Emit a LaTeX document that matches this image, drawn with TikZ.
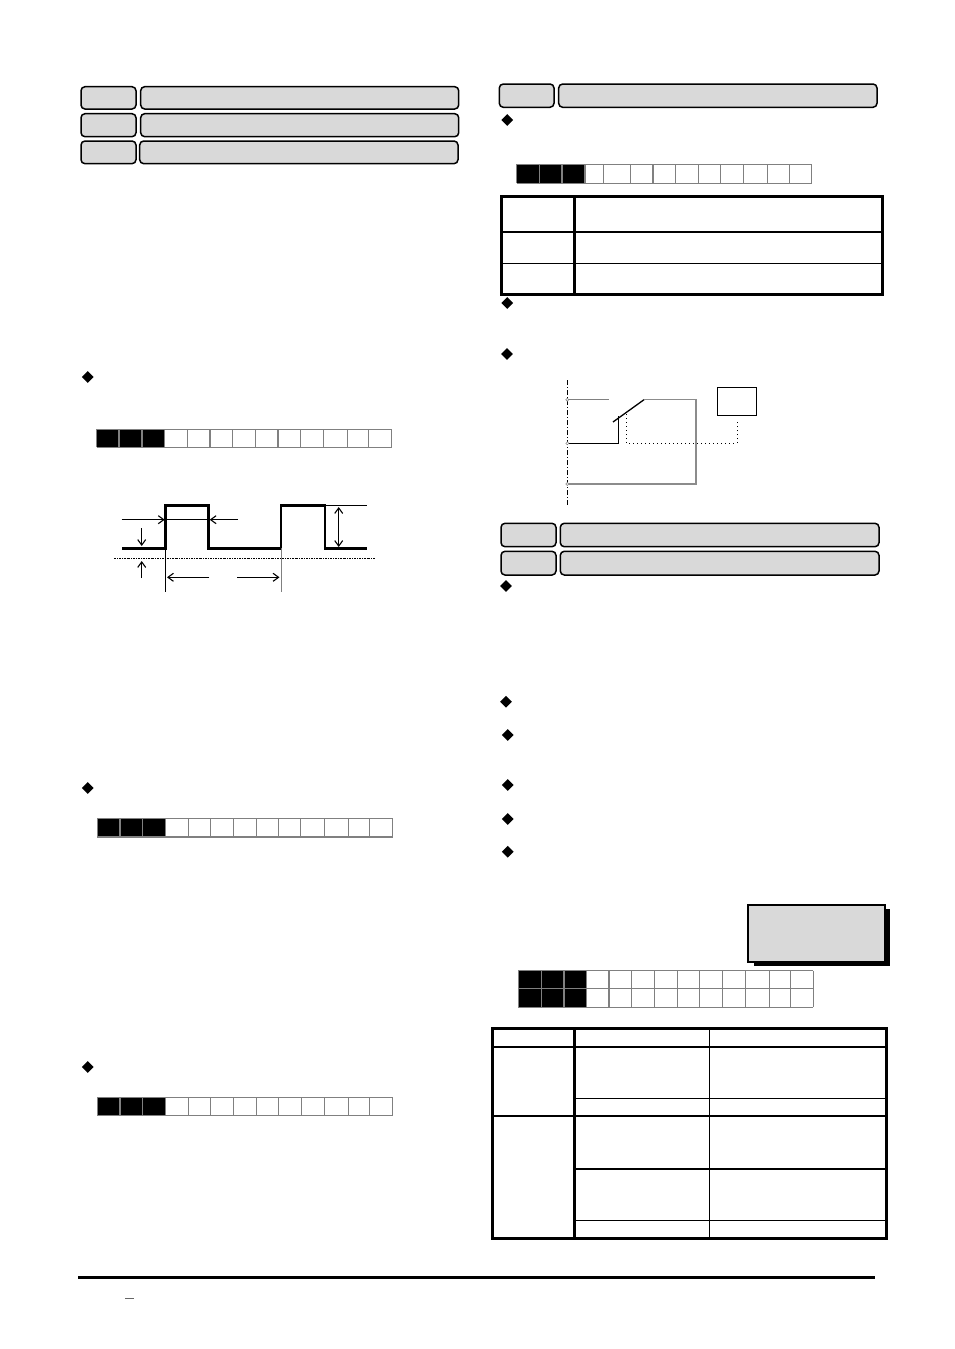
\documentclass[tikz,border=0pt]{standalone}
\usetikzlibrary{arrows.meta,shapes.geometric}
\definecolor{boxgray}{HTML}{D9D9D9}
\definecolor{cellgray}{HTML}{808080}
\tikzset{>/.tip={Straight Barb[length=5.5pt,width=8pt,line width=1.1pt]},
  namebox/.style={draw,line width=1.5pt,rounded corners=4pt,fill=boxgray},
  bullet/.style={diamond,fill=black,inner sep=0pt,minimum size=12pt},
  pulse/.style={line width=2.8pt},
  thinline/.style={line width=1pt},
  outer/.style={line width=2.6pt},
  rowline/.style={line width=1.1pt},
  wire/.style={line width=1.3pt},
  cellline/.style={cellgray,line width=1.2pt},
  pinmark/.style={circle,draw=gray,fill=white,line width=.5pt,inner sep=0pt,minimum size=3pt}}
% left, top, bottom, x of black end, list of x
\newcommand{\bitrow}[5]{
  \fill (#1,#2) rectangle (#4,#3);
  \foreach \i in {#5}
  {
    \draw[cellline] (\i,#2) -- (\i,#3);
  }
}
\begin{document}
\begin{tikzpicture}[x=1pt,y=-1pt]
\useasboundingbox (0,0) rectangle (954,1349);

\foreach \a/\b/\c/\d/\e/\f in {
  81/136/86.7/109/140.7/458.7,
  81/136/113.7/136.7/140.7/458.7,
  81/136/141/163.7/139.7/458,
  499.3/554/84/107.3/558.7/877,
  501/556/523.3/546.7/560.3/879,
  501/556/551.3/575/560.3/879}
{
  \draw[namebox] (\a,\c) rectangle (\b,\d);
  \draw[namebox] (\e,\c) rectangle (\f,\d);
}

\foreach \x/\y in {87.7/377,87.7/788,87.7/1067,507.3/120,507.3/303,507/354,
  506/586,506/701.7,507.7/735,507.7/785,507.7/819,507.7/851.7}
{
  \node[bullet] at (\x,\y) {};
}

\bitrow{96.7}{429.3}{447.3}{164.7}{96.7,119,142,164.7,187.3,210,232.3,255.3,278,300.3,323.3,347.3,368.7,391.7}
\draw[cellline] (96.7,429.3) -- (391.7,429.3);
\draw[cellline] (96.7,447.3) -- (391.7,447.3);
\bitrow{97.3}{818.3}{837}{165.3}{97.3,120,142.7,165.3,188.3,210.3,233.3,256.3,278.3,300.3,324.3,348.3,369.3,392.7}
\draw[cellline] (97.3,818.3) -- (392.7,818.3);
\draw[cellline] (97.3,837) -- (392.7,837);
\bitrow{97.3}{1097.3}{1115.3}{165.3}{97.3,120,142.7,165.3,188.3,210.3,233.3,256.3,278.3,301.3,324.3,348.3,369.3,392.7}
\draw[cellline] (97.3,1097.3) -- (392.7,1097.3);
\draw[cellline] (97.3,1115.3) -- (392.7,1115.3);
\bitrow{516.7}{164.3}{183.3}{585}{516.7,539.3,562,585,603.3,630.3,653,675.3,698.7,720.7,743.3,767.3,789.3,811.7}
\draw[cellline] (516.7,164.3) -- (811.7,164.3);
\draw[cellline] (516.7,183.3) -- (811.7,183.3);
\bitrow{518.3}{970.7}{1007.3}{586.3}{518.3,541.3,564,586.3,609,631.3,654.3,677.3,699.7,722.3,745.3,769.3,790.7,813.3}
\draw[cellline] (518.3,970.7) -- (813.3,970.7);
\draw[cellline] (518.3,988.7) -- (813.3,988.7);
\draw[cellline] (518.3,1007.3) -- (813.3,1007.3);

% pulse
\draw[pulse] (122.3,548.3) -- (165.7,548.3) -- (165.7,505.3) -- (208.7,505.3) -- (208.7,548.3)
  -- (281,548.3) -- (281,505.3) -- (325,505.3) -- (325,548.3) -- (367.3,548.3);
\draw[thinline] (325,505.3) -- (367.3,505.3);
\draw[thinline] (165.7,519.7) -- (208.7,519.7);
\draw[thinline,->] (121.7,519.7) -- (164.7,519.7);
\draw[thinline,->] (238,519.7) -- (209.7,519.7);
\draw[thinline,<->] (338.7,507) -- (338.7,547);
\draw[thinline,->] (141.7,528) -- (141.7,546);
\draw[thinline,->] (141.7,578) -- (141.7,561);
\draw[line width=1pt,dash pattern=on 2pt off 1pt on .8pt off 1pt] (114,558.3) -- (375,558.3);
\draw[thinline] (165.7,548.3) -- (165.7,591.7);
\draw[thinline,cellgray] (281,548.3) -- (281,591.7);
\draw[thinline,->] (209.3,577.3) -- (167,577.3);
\draw[thinline,->] (237.3,577.3) -- (279.5,577.3);

% table top right
\draw[outer] (501.7,196.7) rectangle (882.7,294.3);
\draw[outer] (574.7,196.7) -- (574.7,294.3);
\draw[line width=1.6pt] (501.7,231.7) -- (882.7,231.7);
\draw[rowline] (501.7,263.7) -- (882.7,263.7);

% circuit
\draw[line width=1pt,dash pattern=on 5pt off 2pt on 1pt off 2pt] (567.3,380) -- (567.3,505.7);
\draw[line width=1pt,cellgray] (567.3,399.7) -- (609,399.7);
\draw[wire] (567.3,443.3) -- (618.3,443.3) -- (618.3,416);
\draw[wire] (613,422) -- (644,399.7);
\draw[line width=1.4pt,black!45] (644,399.7) -- (696,399.7) -- (696,484) -- (567.3,484);
\draw[line width=1.1pt,dash pattern=on 1pt off 3pt] (626.7,414) -- (626.7,443.3) -- (737.3,443.3) -- (737.3,419.3);
\draw[wire] (717.3,387.3) rectangle (756.3,415.3);
\foreach \y in {399.7,443.3,484}
{
  \node[pinmark] at (567.3,\y) {};
}

% shadow box
\fill (754,909) rectangle (890,966);
\draw[line width=2pt,fill=boxgray] (748,905) rectangle (884.7,962);

% table bottom
\draw[outer] (492.3,1028.3) rectangle (886.7,1238.3);
\draw[outer] (574.7,1028.3) -- (574.7,1238.3);
\draw[rowline] (709.7,1028.3) -- (709.7,1238.3);
\draw[line width=1.6pt] (492.3,1046.7) -- (886.7,1046.7);
\draw[rowline] (574.7,1098.3) -- (886.7,1098.3);
\draw[line width=1.8pt] (492.3,1116.3) -- (886.7,1116.3);
\draw[line width=1.6pt] (574.7,1168.7) -- (886.7,1168.7);
\draw[rowline] (574.7,1220.3) -- (886.7,1220.3);

% foot
\draw[line width=3.2pt] (78,1277.3) -- (875,1277.3);
\draw[line width=1.4pt,black!60] (125,1298.7) -- (134,1298.7);
\end{tikzpicture}
\end{document}
